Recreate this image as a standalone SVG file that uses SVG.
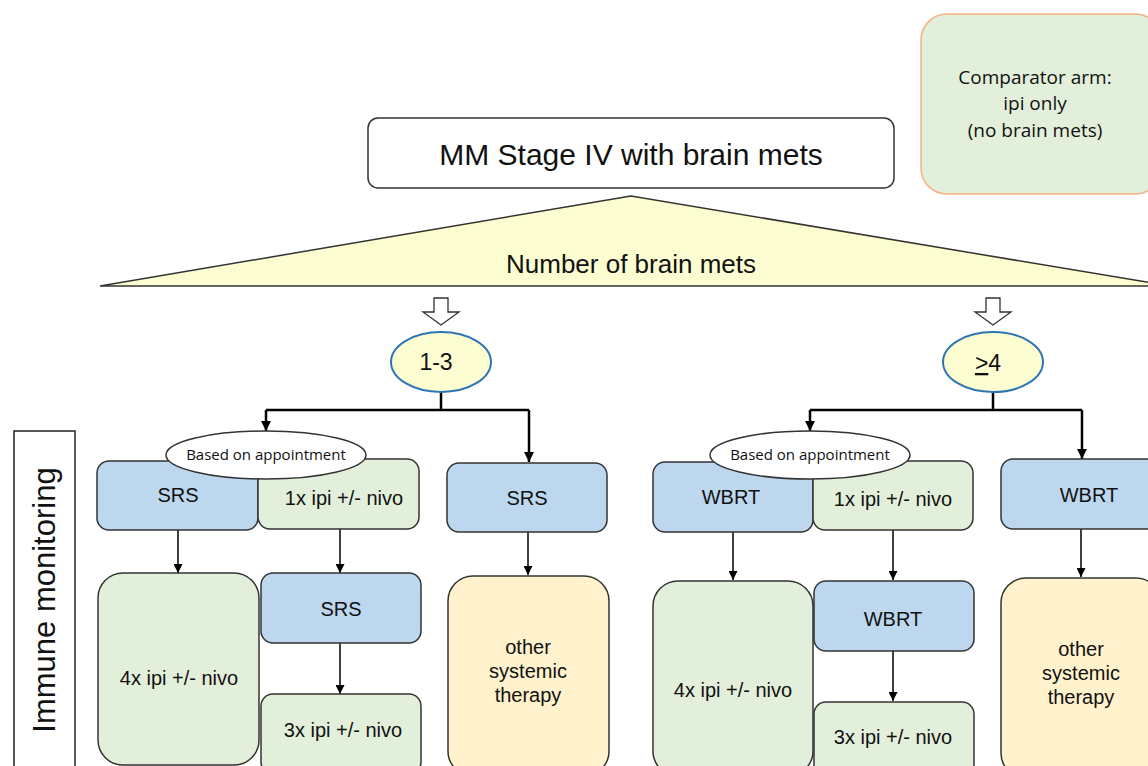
<svg xmlns="http://www.w3.org/2000/svg" width="1148" height="766" viewBox="0 0 1148 766">
<style>
.t{font-family:"Liberation Sans",Arial,sans-serif;fill:#111;text-anchor:middle}
.c{font-family:"Open Sans","Liberation Sans",sans-serif;fill:#111;text-anchor:middle}
.blue{fill:#bdd7ee;stroke:#333;stroke-width:1.5}
.green{fill:#e2efda;stroke:#333;stroke-width:1.5}
.yel{fill:#fff2cc;stroke:#333;stroke-width:1.5}
.oval{fill:#fdfdd2;stroke:#2e75b6;stroke-width:2}
.wh{fill:#fff;stroke:#333;stroke-width:1.5}
.ln{fill:none;stroke:#000;stroke-width:1.5}
.lnb{fill:none;stroke:#000;stroke-width:2.5}
.hol{fill:#fff;stroke:#333;stroke-width:1.3}
</style>
<defs>
<marker id="ah" viewBox="0 0 10 10" refX="10" refY="5" markerWidth="9" markerHeight="9" markerUnits="userSpaceOnUse" orient="auto"><path d="M0,0 L10,5 L0,10 z" fill="#000"/></marker>
<marker id="ahb" viewBox="0 0 10 10" refX="10" refY="5" markerWidth="10" markerHeight="10" markerUnits="userSpaceOnUse" orient="auto"><path d="M0,0 L10,5 L0,10 z" fill="#000"/></marker>
</defs>

<g id="comparator">
<rect x="921" y="14" width="240" height="180" rx="26" fill="#e2efda" stroke="#f4b183" stroke-width="1.5"/>
<text class="c" font-size="19" x="1035" y="84">Comparator arm:</text>
<text class="c" font-size="19" x="1035" y="110">ipi only</text>
<text class="c" font-size="19" x="1035" y="137">(no brain mets)</text>
</g>

<g id="main">
<rect x="368" y="118" width="526" height="70" rx="10" class="wh"/>
<text class="t" font-size="30" x="631" y="165">MM Stage IV with brain mets</text>
</g>

<g id="triangle">
<polygon points="631,196 100,286 1170,286" fill="#fdfdd2" stroke="#333" stroke-width="1.5"/>
<text class="t" font-size="26" x="631" y="273">Number of brain mets</text>
</g>

<g id="immune">
<rect x="14" y="431" width="61" height="345" fill="#fff" stroke="#222" stroke-width="1.5"/>
<text class="t" font-size="31" transform="translate(55,600) rotate(-90)">Immune monitoring</text>
</g>

<g id="hollow-arrows">
<path class="hol" d="M434,298 H448 V312 H459 L441,325 L423,312 H434 Z"/>
<path class="hol" d="M986,298 H1000 V312 H1011 L993,325 L975,312 H986 Z"/>
</g>

<g id="connectors">
<path class="lnb" d="M441,392 V410 M266,410 H529" />
<path class="lnb" d="M266,410 V431" marker-end="url(#ahb)"/>
<path class="lnb" d="M529,410 V462" marker-end="url(#ahb)"/>
<path class="ln" d="M178,530 V573" marker-end="url(#ah)"/>
<path class="ln" d="M340,529 V573" marker-end="url(#ah)"/>
<path class="ln" d="M340,643 V694" marker-end="url(#ah)"/>
<path class="ln" d="M528,532 V575" marker-end="url(#ah)"/>
<path class="lnb" d="M993,392 V410 M810,410 H1082"/>
<path class="lnb" d="M810,410 V431" marker-end="url(#ahb)"/>
<path class="lnb" d="M1082,410 V459" marker-end="url(#ahb)"/>
<path class="ln" d="M733,532 V580" marker-end="url(#ah)"/>
<path class="ln" d="M893,530 V580" marker-end="url(#ah)"/>
<path class="ln" d="M893,651 V701" marker-end="url(#ah)"/>
<path class="ln" d="M1081,529 V577" marker-end="url(#ah)"/>
</g>

<g id="n13">
<ellipse cx="441" cy="362" rx="50" ry="30" class="oval"/>
<text class="t" font-size="23" x="436" y="370">1-3</text>
</g>
<g id="n4">
<ellipse cx="993" cy="362" rx="50" ry="30" class="oval"/>
<text class="t" font-size="23" x="988" y="371"><tspan text-decoration="underline">&gt;</tspan>4</text>
</g>

<g id="L-srs"><rect x="97" y="461" width="161" height="69" rx="12" class="blue"/><text class="t" font-size="20" x="178" y="502">SRS</text></g>
<g id="L-1x"><rect x="258" y="459" width="161" height="70" rx="12" class="green"/><text class="t" font-size="20" x="344" y="505">1x ipi +/- nivo</text></g>
<g id="L-appt"><ellipse cx="266" cy="455" rx="100" ry="24" class="wh"/><text class="c" font-size="15" x="266" y="460">Based on appointment</text></g>
<g id="L-4x"><rect x="98" y="573" width="161" height="192" rx="25" class="green"/><text class="t" font-size="20" x="179" y="685">4x ipi +/- nivo</text></g>
<g id="L-srs2"><rect x="261" y="573" width="160" height="70" rx="12" class="blue"/><text class="t" font-size="20" x="341" y="616">SRS</text></g>
<g id="L-3x"><rect x="261" y="694" width="160" height="80" rx="12" class="green"/><text class="t" font-size="20" x="343" y="737">3x ipi +/- nivo</text></g>
<g id="L-srs3"><rect x="447" y="463" width="160" height="69" rx="12" class="blue"/><text class="t" font-size="20" x="527" y="505">SRS</text></g>
<g id="L-other"><rect x="448" y="576" width="161" height="200" rx="25" class="yel"/><text class="t" font-size="20" x="528" y="654">other</text><text class="t" font-size="20" x="528" y="678">systemic</text><text class="t" font-size="20" x="528" y="702">therapy</text></g>

<g id="R-wbrt"><rect x="653" y="462" width="160" height="70" rx="12" class="blue"/><text class="t" font-size="20" x="731" y="504">WBRT</text></g>
<g id="R-1x"><rect x="813" y="461" width="160" height="69" rx="12" class="green"/><text class="t" font-size="20" x="893" y="506">1x ipi +/- nivo</text></g>
<g id="R-appt"><ellipse cx="810" cy="455" rx="100" ry="24" class="wh"/><text class="c" font-size="15" x="810" y="460">Based on appointment</text></g>
<g id="R-4x"><rect x="653" y="581" width="160" height="195" rx="25" class="green"/><text class="t" font-size="20" x="733" y="697">4x ipi +/- nivo</text></g>
<g id="R-wbrt2"><rect x="814" y="581" width="160" height="70" rx="12" class="blue"/><text class="t" font-size="20" x="893" y="626">WBRT</text></g>
<g id="R-3x"><rect x="814" y="702" width="160" height="80" rx="12" class="green"/><text class="t" font-size="20" x="893" y="744">3x ipi +/- nivo</text></g>
<g id="R-wbrt3"><rect x="1001" y="459" width="160" height="70" rx="12" class="blue"/><text class="t" font-size="20" x="1089" y="502">WBRT</text></g>
<g id="R-other"><rect x="1001" y="578" width="160" height="200" rx="25" class="yel"/><text class="t" font-size="20" x="1081" y="656">other</text><text class="t" font-size="20" x="1081" y="680">systemic</text><text class="t" font-size="20" x="1081" y="704">therapy</text></g>
</svg>
